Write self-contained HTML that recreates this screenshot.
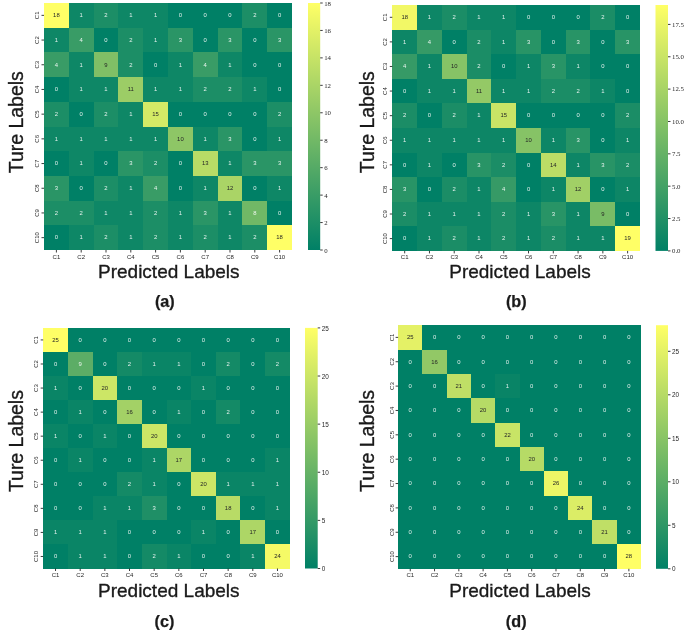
<!DOCTYPE html>
<html><head><meta charset="utf-8"><style>
html,body{margin:0;padding:0;background:#fff;}
body{width:685px;height:630px;position:relative;overflow:hidden;font-family:"Liberation Sans",sans-serif;}
</style></head><body>
<svg width="685" height="630" viewBox="0 0 685 630" style="position:absolute;left:0;top:0;will-change:transform">
<defs>
<linearGradient id="g0" x1="0" y1="1" x2="0" y2="0"><stop offset="0" stop-color="#008066"/><stop offset="1" stop-color="#ffff66"/></linearGradient>
<linearGradient id="g1" x1="0" y1="1" x2="0" y2="0"><stop offset="0" stop-color="#008066"/><stop offset="1" stop-color="#ffff66"/></linearGradient>
<linearGradient id="g2" x1="0" y1="1" x2="0" y2="0"><stop offset="0" stop-color="#008066"/><stop offset="1" stop-color="#ffff66"/></linearGradient>
<linearGradient id="g3" x1="0" y1="1" x2="0" y2="0"><stop offset="0" stop-color="#008066"/><stop offset="1" stop-color="#ffff66"/></linearGradient>
</defs>
<g shape-rendering="crispEdges"><rect x="44.00" y="3.00" width="24.82" height="24.72" fill="#ffff66"/><rect x="68.80" y="3.00" width="24.82" height="24.72" fill="#0e8766"/><rect x="93.60" y="3.00" width="24.82" height="24.72" fill="#1c8e66"/><rect x="118.40" y="3.00" width="24.82" height="24.72" fill="#0e8766"/><rect x="143.20" y="3.00" width="24.82" height="24.72" fill="#0e8766"/><rect x="168.00" y="3.00" width="24.82" height="24.72" fill="#008066"/><rect x="192.80" y="3.00" width="24.82" height="24.72" fill="#008066"/><rect x="217.60" y="3.00" width="24.82" height="24.72" fill="#008066"/><rect x="242.40" y="3.00" width="24.82" height="24.72" fill="#1c8e66"/><rect x="267.20" y="3.00" width="24.82" height="24.72" fill="#008066"/><rect x="44.00" y="27.70" width="24.82" height="24.72" fill="#0e8766"/><rect x="68.80" y="27.70" width="24.82" height="24.72" fill="#399c66"/><rect x="93.60" y="27.70" width="24.82" height="24.72" fill="#008066"/><rect x="118.40" y="27.70" width="24.82" height="24.72" fill="#1c8e66"/><rect x="143.20" y="27.70" width="24.82" height="24.72" fill="#0e8766"/><rect x="168.00" y="27.70" width="24.82" height="24.72" fill="#2a9566"/><rect x="192.80" y="27.70" width="24.82" height="24.72" fill="#008066"/><rect x="217.60" y="27.70" width="24.82" height="24.72" fill="#2a9566"/><rect x="242.40" y="27.70" width="24.82" height="24.72" fill="#008066"/><rect x="267.20" y="27.70" width="24.82" height="24.72" fill="#2a9566"/><rect x="44.00" y="52.40" width="24.82" height="24.72" fill="#399c66"/><rect x="68.80" y="52.40" width="24.82" height="24.72" fill="#0e8766"/><rect x="93.60" y="52.40" width="24.82" height="24.72" fill="#80bf66"/><rect x="118.40" y="52.40" width="24.82" height="24.72" fill="#1c8e66"/><rect x="143.20" y="52.40" width="24.82" height="24.72" fill="#008066"/><rect x="168.00" y="52.40" width="24.82" height="24.72" fill="#0e8766"/><rect x="192.80" y="52.40" width="24.82" height="24.72" fill="#399c66"/><rect x="217.60" y="52.40" width="24.82" height="24.72" fill="#0e8766"/><rect x="242.40" y="52.40" width="24.82" height="24.72" fill="#008066"/><rect x="267.20" y="52.40" width="24.82" height="24.72" fill="#008066"/><rect x="44.00" y="77.10" width="24.82" height="24.72" fill="#008066"/><rect x="68.80" y="77.10" width="24.82" height="24.72" fill="#0e8766"/><rect x="93.60" y="77.10" width="24.82" height="24.72" fill="#0e8766"/><rect x="118.40" y="77.10" width="24.82" height="24.72" fill="#9ccd66"/><rect x="143.20" y="77.10" width="24.82" height="24.72" fill="#0e8766"/><rect x="168.00" y="77.10" width="24.82" height="24.72" fill="#0e8766"/><rect x="192.80" y="77.10" width="24.82" height="24.72" fill="#1c8e66"/><rect x="217.60" y="77.10" width="24.82" height="24.72" fill="#1c8e66"/><rect x="242.40" y="77.10" width="24.82" height="24.72" fill="#0e8766"/><rect x="267.20" y="77.10" width="24.82" height="24.72" fill="#008066"/><rect x="44.00" y="101.80" width="24.82" height="24.72" fill="#1c8e66"/><rect x="68.80" y="101.80" width="24.82" height="24.72" fill="#008066"/><rect x="93.60" y="101.80" width="24.82" height="24.72" fill="#1c8e66"/><rect x="118.40" y="101.80" width="24.82" height="24.72" fill="#0e8766"/><rect x="143.20" y="101.80" width="24.82" height="24.72" fill="#d4ea66"/><rect x="168.00" y="101.80" width="24.82" height="24.72" fill="#008066"/><rect x="192.80" y="101.80" width="24.82" height="24.72" fill="#008066"/><rect x="217.60" y="101.80" width="24.82" height="24.72" fill="#008066"/><rect x="242.40" y="101.80" width="24.82" height="24.72" fill="#008066"/><rect x="267.20" y="101.80" width="24.82" height="24.72" fill="#1c8e66"/><rect x="44.00" y="126.50" width="24.82" height="24.72" fill="#0e8766"/><rect x="68.80" y="126.50" width="24.82" height="24.72" fill="#0e8766"/><rect x="93.60" y="126.50" width="24.82" height="24.72" fill="#0e8766"/><rect x="118.40" y="126.50" width="24.82" height="24.72" fill="#0e8766"/><rect x="143.20" y="126.50" width="24.82" height="24.72" fill="#0e8766"/><rect x="168.00" y="126.50" width="24.82" height="24.72" fill="#8ec666"/><rect x="192.80" y="126.50" width="24.82" height="24.72" fill="#0e8766"/><rect x="217.60" y="126.50" width="24.82" height="24.72" fill="#2a9566"/><rect x="242.40" y="126.50" width="24.82" height="24.72" fill="#008066"/><rect x="267.20" y="126.50" width="24.82" height="24.72" fill="#0e8766"/><rect x="44.00" y="151.20" width="24.82" height="24.72" fill="#008066"/><rect x="68.80" y="151.20" width="24.82" height="24.72" fill="#0e8766"/><rect x="93.60" y="151.20" width="24.82" height="24.72" fill="#008066"/><rect x="118.40" y="151.20" width="24.82" height="24.72" fill="#2a9566"/><rect x="143.20" y="151.20" width="24.82" height="24.72" fill="#1c8e66"/><rect x="168.00" y="151.20" width="24.82" height="24.72" fill="#008066"/><rect x="192.80" y="151.20" width="24.82" height="24.72" fill="#b8dc66"/><rect x="217.60" y="151.20" width="24.82" height="24.72" fill="#0e8766"/><rect x="242.40" y="151.20" width="24.82" height="24.72" fill="#2a9566"/><rect x="267.20" y="151.20" width="24.82" height="24.72" fill="#2a9566"/><rect x="44.00" y="175.90" width="24.82" height="24.72" fill="#2a9566"/><rect x="68.80" y="175.90" width="24.82" height="24.72" fill="#008066"/><rect x="93.60" y="175.90" width="24.82" height="24.72" fill="#1c8e66"/><rect x="118.40" y="175.90" width="24.82" height="24.72" fill="#0e8766"/><rect x="143.20" y="175.90" width="24.82" height="24.72" fill="#399c66"/><rect x="168.00" y="175.90" width="24.82" height="24.72" fill="#008066"/><rect x="192.80" y="175.90" width="24.82" height="24.72" fill="#0e8766"/><rect x="217.60" y="175.90" width="24.82" height="24.72" fill="#aad466"/><rect x="242.40" y="175.90" width="24.82" height="24.72" fill="#008066"/><rect x="267.20" y="175.90" width="24.82" height="24.72" fill="#0e8766"/><rect x="44.00" y="200.60" width="24.82" height="24.72" fill="#1c8e66"/><rect x="68.80" y="200.60" width="24.82" height="24.72" fill="#1c8e66"/><rect x="93.60" y="200.60" width="24.82" height="24.72" fill="#0e8766"/><rect x="118.40" y="200.60" width="24.82" height="24.72" fill="#0e8766"/><rect x="143.20" y="200.60" width="24.82" height="24.72" fill="#1c8e66"/><rect x="168.00" y="200.60" width="24.82" height="24.72" fill="#0e8766"/><rect x="192.80" y="200.60" width="24.82" height="24.72" fill="#2a9566"/><rect x="217.60" y="200.60" width="24.82" height="24.72" fill="#0e8766"/><rect x="242.40" y="200.60" width="24.82" height="24.72" fill="#71b866"/><rect x="267.20" y="200.60" width="24.82" height="24.72" fill="#008066"/><rect x="44.00" y="225.30" width="24.82" height="24.72" fill="#008066"/><rect x="68.80" y="225.30" width="24.82" height="24.72" fill="#0e8766"/><rect x="93.60" y="225.30" width="24.82" height="24.72" fill="#1c8e66"/><rect x="118.40" y="225.30" width="24.82" height="24.72" fill="#0e8766"/><rect x="143.20" y="225.30" width="24.82" height="24.72" fill="#1c8e66"/><rect x="168.00" y="225.30" width="24.82" height="24.72" fill="#0e8766"/><rect x="192.80" y="225.30" width="24.82" height="24.72" fill="#1c8e66"/><rect x="217.60" y="225.30" width="24.82" height="24.72" fill="#0e8766"/><rect x="242.40" y="225.30" width="24.82" height="24.72" fill="#1c8e66"/><rect x="267.20" y="225.30" width="24.82" height="24.72" fill="#ffff66"/></g>
<g font-family="Liberation Sans" font-size="5.9" text-anchor="middle"><text x="56.40" y="17.15" fill="#262626">18</text><text x="81.20" y="17.15" fill="#ffffff" fill-opacity="0.88">1</text><text x="106.00" y="17.15" fill="#ffffff" fill-opacity="0.88">2</text><text x="130.80" y="17.15" fill="#ffffff" fill-opacity="0.88">1</text><text x="155.60" y="17.15" fill="#ffffff" fill-opacity="0.88">1</text><text x="180.40" y="17.15" fill="#ffffff" fill-opacity="0.88">0</text><text x="205.20" y="17.15" fill="#ffffff" fill-opacity="0.88">0</text><text x="230.00" y="17.15" fill="#ffffff" fill-opacity="0.88">0</text><text x="254.80" y="17.15" fill="#ffffff" fill-opacity="0.88">2</text><text x="279.60" y="17.15" fill="#ffffff" fill-opacity="0.88">0</text><text x="56.40" y="41.85" fill="#ffffff" fill-opacity="0.88">1</text><text x="81.20" y="41.85" fill="#ffffff" fill-opacity="0.88">4</text><text x="106.00" y="41.85" fill="#ffffff" fill-opacity="0.88">0</text><text x="130.80" y="41.85" fill="#ffffff" fill-opacity="0.88">2</text><text x="155.60" y="41.85" fill="#ffffff" fill-opacity="0.88">1</text><text x="180.40" y="41.85" fill="#ffffff" fill-opacity="0.88">3</text><text x="205.20" y="41.85" fill="#ffffff" fill-opacity="0.88">0</text><text x="230.00" y="41.85" fill="#ffffff" fill-opacity="0.88">3</text><text x="254.80" y="41.85" fill="#ffffff" fill-opacity="0.88">0</text><text x="279.60" y="41.85" fill="#ffffff" fill-opacity="0.88">3</text><text x="56.40" y="66.55" fill="#ffffff" fill-opacity="0.88">4</text><text x="81.20" y="66.55" fill="#ffffff" fill-opacity="0.88">1</text><text x="106.00" y="66.55" fill="#262626">9</text><text x="130.80" y="66.55" fill="#ffffff" fill-opacity="0.88">2</text><text x="155.60" y="66.55" fill="#ffffff" fill-opacity="0.88">0</text><text x="180.40" y="66.55" fill="#ffffff" fill-opacity="0.88">1</text><text x="205.20" y="66.55" fill="#ffffff" fill-opacity="0.88">4</text><text x="230.00" y="66.55" fill="#ffffff" fill-opacity="0.88">1</text><text x="254.80" y="66.55" fill="#ffffff" fill-opacity="0.88">0</text><text x="279.60" y="66.55" fill="#ffffff" fill-opacity="0.88">0</text><text x="56.40" y="91.25" fill="#ffffff" fill-opacity="0.88">0</text><text x="81.20" y="91.25" fill="#ffffff" fill-opacity="0.88">1</text><text x="106.00" y="91.25" fill="#ffffff" fill-opacity="0.88">1</text><text x="130.80" y="91.25" fill="#262626">11</text><text x="155.60" y="91.25" fill="#ffffff" fill-opacity="0.88">1</text><text x="180.40" y="91.25" fill="#ffffff" fill-opacity="0.88">1</text><text x="205.20" y="91.25" fill="#ffffff" fill-opacity="0.88">2</text><text x="230.00" y="91.25" fill="#ffffff" fill-opacity="0.88">2</text><text x="254.80" y="91.25" fill="#ffffff" fill-opacity="0.88">1</text><text x="279.60" y="91.25" fill="#ffffff" fill-opacity="0.88">0</text><text x="56.40" y="115.95" fill="#ffffff" fill-opacity="0.88">2</text><text x="81.20" y="115.95" fill="#ffffff" fill-opacity="0.88">0</text><text x="106.00" y="115.95" fill="#ffffff" fill-opacity="0.88">2</text><text x="130.80" y="115.95" fill="#ffffff" fill-opacity="0.88">1</text><text x="155.60" y="115.95" fill="#262626">15</text><text x="180.40" y="115.95" fill="#ffffff" fill-opacity="0.88">0</text><text x="205.20" y="115.95" fill="#ffffff" fill-opacity="0.88">0</text><text x="230.00" y="115.95" fill="#ffffff" fill-opacity="0.88">0</text><text x="254.80" y="115.95" fill="#ffffff" fill-opacity="0.88">0</text><text x="279.60" y="115.95" fill="#ffffff" fill-opacity="0.88">2</text><text x="56.40" y="140.65" fill="#ffffff" fill-opacity="0.88">1</text><text x="81.20" y="140.65" fill="#ffffff" fill-opacity="0.88">1</text><text x="106.00" y="140.65" fill="#ffffff" fill-opacity="0.88">1</text><text x="130.80" y="140.65" fill="#ffffff" fill-opacity="0.88">1</text><text x="155.60" y="140.65" fill="#ffffff" fill-opacity="0.88">1</text><text x="180.40" y="140.65" fill="#262626">10</text><text x="205.20" y="140.65" fill="#ffffff" fill-opacity="0.88">1</text><text x="230.00" y="140.65" fill="#ffffff" fill-opacity="0.88">3</text><text x="254.80" y="140.65" fill="#ffffff" fill-opacity="0.88">0</text><text x="279.60" y="140.65" fill="#ffffff" fill-opacity="0.88">1</text><text x="56.40" y="165.35" fill="#ffffff" fill-opacity="0.88">0</text><text x="81.20" y="165.35" fill="#ffffff" fill-opacity="0.88">1</text><text x="106.00" y="165.35" fill="#ffffff" fill-opacity="0.88">0</text><text x="130.80" y="165.35" fill="#ffffff" fill-opacity="0.88">3</text><text x="155.60" y="165.35" fill="#ffffff" fill-opacity="0.88">2</text><text x="180.40" y="165.35" fill="#ffffff" fill-opacity="0.88">0</text><text x="205.20" y="165.35" fill="#262626">13</text><text x="230.00" y="165.35" fill="#ffffff" fill-opacity="0.88">1</text><text x="254.80" y="165.35" fill="#ffffff" fill-opacity="0.88">3</text><text x="279.60" y="165.35" fill="#ffffff" fill-opacity="0.88">3</text><text x="56.40" y="190.05" fill="#ffffff" fill-opacity="0.88">3</text><text x="81.20" y="190.05" fill="#ffffff" fill-opacity="0.88">0</text><text x="106.00" y="190.05" fill="#ffffff" fill-opacity="0.88">2</text><text x="130.80" y="190.05" fill="#ffffff" fill-opacity="0.88">1</text><text x="155.60" y="190.05" fill="#ffffff" fill-opacity="0.88">4</text><text x="180.40" y="190.05" fill="#ffffff" fill-opacity="0.88">0</text><text x="205.20" y="190.05" fill="#ffffff" fill-opacity="0.88">1</text><text x="230.00" y="190.05" fill="#262626">12</text><text x="254.80" y="190.05" fill="#ffffff" fill-opacity="0.88">0</text><text x="279.60" y="190.05" fill="#ffffff" fill-opacity="0.88">1</text><text x="56.40" y="214.75" fill="#ffffff" fill-opacity="0.88">2</text><text x="81.20" y="214.75" fill="#ffffff" fill-opacity="0.88">2</text><text x="106.00" y="214.75" fill="#ffffff" fill-opacity="0.88">1</text><text x="130.80" y="214.75" fill="#ffffff" fill-opacity="0.88">1</text><text x="155.60" y="214.75" fill="#ffffff" fill-opacity="0.88">2</text><text x="180.40" y="214.75" fill="#ffffff" fill-opacity="0.88">1</text><text x="205.20" y="214.75" fill="#ffffff" fill-opacity="0.88">3</text><text x="230.00" y="214.75" fill="#ffffff" fill-opacity="0.88">1</text><text x="254.80" y="214.75" fill="#ffffff" fill-opacity="0.88">8</text><text x="279.60" y="214.75" fill="#ffffff" fill-opacity="0.88">0</text><text x="56.40" y="239.45" fill="#ffffff" fill-opacity="0.88">0</text><text x="81.20" y="239.45" fill="#ffffff" fill-opacity="0.88">1</text><text x="106.00" y="239.45" fill="#ffffff" fill-opacity="0.88">2</text><text x="130.80" y="239.45" fill="#ffffff" fill-opacity="0.88">1</text><text x="155.60" y="239.45" fill="#ffffff" fill-opacity="0.88">2</text><text x="180.40" y="239.45" fill="#ffffff" fill-opacity="0.88">1</text><text x="205.20" y="239.45" fill="#ffffff" fill-opacity="0.88">2</text><text x="230.00" y="239.45" fill="#ffffff" fill-opacity="0.88">1</text><text x="254.80" y="239.45" fill="#ffffff" fill-opacity="0.88">2</text><text x="279.60" y="239.45" fill="#262626">18</text></g>
<rect x="308.00" y="3.00" width="12.20" height="247.00" fill="url(#g0)"/>
<g font-family="Liberation Serif" font-size="6.8" fill="#262626"><line x1="320.20" x2="322.70" y1="250.00" y2="250.00" stroke="#262626" stroke-width="0.9"/><text x="324.20" y="252.55">0</text><line x1="320.20" x2="322.70" y1="222.56" y2="222.56" stroke="#262626" stroke-width="0.9"/><text x="324.20" y="225.10">2</text><line x1="320.20" x2="322.70" y1="195.11" y2="195.11" stroke="#262626" stroke-width="0.9"/><text x="324.20" y="197.66">4</text><line x1="320.20" x2="322.70" y1="167.67" y2="167.67" stroke="#262626" stroke-width="0.9"/><text x="324.20" y="170.21">6</text><line x1="320.20" x2="322.70" y1="140.22" y2="140.22" stroke="#262626" stroke-width="0.9"/><text x="324.20" y="142.77">8</text><line x1="320.20" x2="322.70" y1="112.78" y2="112.78" stroke="#262626" stroke-width="0.9"/><text x="324.20" y="115.33">10</text><line x1="320.20" x2="322.70" y1="85.33" y2="85.33" stroke="#262626" stroke-width="0.9"/><text x="324.20" y="87.88">12</text><line x1="320.20" x2="322.70" y1="57.89" y2="57.89" stroke="#262626" stroke-width="0.9"/><text x="324.20" y="60.44">14</text><line x1="320.20" x2="322.70" y1="30.44" y2="30.44" stroke="#262626" stroke-width="0.9"/><text x="324.20" y="32.99">16</text><line x1="320.20" x2="322.70" y1="3.00" y2="3.00" stroke="#262626" stroke-width="0.9"/><text x="324.20" y="5.55">18</text></g>
<g font-family="Liberation Sans" font-size="6.0" fill="#262626" text-anchor="middle"><line x1="56.40" x2="56.40" y1="250.00" y2="252.50" stroke="#262626" stroke-width="0.9"/><text x="56.40" y="258.86">C1</text><line x1="81.20" x2="81.20" y1="250.00" y2="252.50" stroke="#262626" stroke-width="0.9"/><text x="81.20" y="258.86">C2</text><line x1="106.00" x2="106.00" y1="250.00" y2="252.50" stroke="#262626" stroke-width="0.9"/><text x="106.00" y="258.86">C3</text><line x1="130.80" x2="130.80" y1="250.00" y2="252.50" stroke="#262626" stroke-width="0.9"/><text x="130.80" y="258.86">C4</text><line x1="155.60" x2="155.60" y1="250.00" y2="252.50" stroke="#262626" stroke-width="0.9"/><text x="155.60" y="258.86">C5</text><line x1="180.40" x2="180.40" y1="250.00" y2="252.50" stroke="#262626" stroke-width="0.9"/><text x="180.40" y="258.86">C6</text><line x1="205.20" x2="205.20" y1="250.00" y2="252.50" stroke="#262626" stroke-width="0.9"/><text x="205.20" y="258.86">C7</text><line x1="230.00" x2="230.00" y1="250.00" y2="252.50" stroke="#262626" stroke-width="0.9"/><text x="230.00" y="258.86">C8</text><line x1="254.80" x2="254.80" y1="250.00" y2="252.50" stroke="#262626" stroke-width="0.9"/><text x="254.80" y="258.86">C9</text><line x1="279.60" x2="279.60" y1="250.00" y2="252.50" stroke="#262626" stroke-width="0.9"/><text x="279.60" y="258.86">C10</text><line x1="41.50" x2="44.00" y1="15.35" y2="15.35" stroke="#262626" stroke-width="0.9"/><text transform="translate(37.00 15.35) rotate(-90)" x="0" y="2.16">C1</text><line x1="41.50" x2="44.00" y1="40.05" y2="40.05" stroke="#262626" stroke-width="0.9"/><text transform="translate(37.00 40.05) rotate(-90)" x="0" y="2.16">C2</text><line x1="41.50" x2="44.00" y1="64.75" y2="64.75" stroke="#262626" stroke-width="0.9"/><text transform="translate(37.00 64.75) rotate(-90)" x="0" y="2.16">C3</text><line x1="41.50" x2="44.00" y1="89.45" y2="89.45" stroke="#262626" stroke-width="0.9"/><text transform="translate(37.00 89.45) rotate(-90)" x="0" y="2.16">C4</text><line x1="41.50" x2="44.00" y1="114.15" y2="114.15" stroke="#262626" stroke-width="0.9"/><text transform="translate(37.00 114.15) rotate(-90)" x="0" y="2.16">C5</text><line x1="41.50" x2="44.00" y1="138.85" y2="138.85" stroke="#262626" stroke-width="0.9"/><text transform="translate(37.00 138.85) rotate(-90)" x="0" y="2.16">C6</text><line x1="41.50" x2="44.00" y1="163.55" y2="163.55" stroke="#262626" stroke-width="0.9"/><text transform="translate(37.00 163.55) rotate(-90)" x="0" y="2.16">C7</text><line x1="41.50" x2="44.00" y1="188.25" y2="188.25" stroke="#262626" stroke-width="0.9"/><text transform="translate(37.00 188.25) rotate(-90)" x="0" y="2.16">C8</text><line x1="41.50" x2="44.00" y1="212.95" y2="212.95" stroke="#262626" stroke-width="0.9"/><text transform="translate(37.00 212.95) rotate(-90)" x="0" y="2.16">C9</text><line x1="41.50" x2="44.00" y1="237.65" y2="237.65" stroke="#262626" stroke-width="0.9"/><text transform="translate(37.00 237.65) rotate(-90)" x="0" y="2.16">C10</text></g>
<text font-family="Liberation Sans" font-size="19" fill="#1a1a1a" stroke="#1a1a1a" stroke-width="0.35" text-anchor="middle" x="168.80" y="278.40">Predicted Labels</text>
<text font-family="Liberation Sans" font-size="19.6" textLength="102" lengthAdjust="spacingAndGlyphs" fill="#1a1a1a" stroke="#1a1a1a" stroke-width="0.35" text-anchor="middle" transform="translate(15.70 122.20) rotate(-90)" x="0" y="6.80">Ture Labels</text>
<text font-family="Liberation Sans" font-weight="bold" font-size="16.2" fill="#1a1a1a" stroke="#1a1a1a" stroke-width="0.25" text-anchor="middle" x="164.80" y="307.20">(a)</text>
<g shape-rendering="crispEdges"><rect x="392.30" y="5.00" width="24.79" height="24.61" fill="#f2f866"/><rect x="417.07" y="5.00" width="24.79" height="24.61" fill="#0d8666"/><rect x="441.84" y="5.00" width="24.79" height="24.61" fill="#1b8d66"/><rect x="466.61" y="5.00" width="24.79" height="24.61" fill="#0d8666"/><rect x="491.38" y="5.00" width="24.79" height="24.61" fill="#0d8666"/><rect x="516.15" y="5.00" width="24.79" height="24.61" fill="#008066"/><rect x="540.92" y="5.00" width="24.79" height="24.61" fill="#008066"/><rect x="565.69" y="5.00" width="24.79" height="24.61" fill="#008066"/><rect x="590.46" y="5.00" width="24.79" height="24.61" fill="#1b8d66"/><rect x="615.23" y="5.00" width="24.79" height="24.61" fill="#008066"/><rect x="392.30" y="29.59" width="24.79" height="24.61" fill="#0d8666"/><rect x="417.07" y="29.59" width="24.79" height="24.61" fill="#369a66"/><rect x="441.84" y="29.59" width="24.79" height="24.61" fill="#008066"/><rect x="466.61" y="29.59" width="24.79" height="24.61" fill="#1b8d66"/><rect x="491.38" y="29.59" width="24.79" height="24.61" fill="#0d8666"/><rect x="516.15" y="29.59" width="24.79" height="24.61" fill="#289466"/><rect x="540.92" y="29.59" width="24.79" height="24.61" fill="#008066"/><rect x="565.69" y="29.59" width="24.79" height="24.61" fill="#289466"/><rect x="590.46" y="29.59" width="24.79" height="24.61" fill="#008066"/><rect x="615.23" y="29.59" width="24.79" height="24.61" fill="#289466"/><rect x="392.30" y="54.18" width="24.79" height="24.61" fill="#369a66"/><rect x="417.07" y="54.18" width="24.79" height="24.61" fill="#0d8666"/><rect x="441.84" y="54.18" width="24.79" height="24.61" fill="#86c366"/><rect x="466.61" y="54.18" width="24.79" height="24.61" fill="#1b8d66"/><rect x="491.38" y="54.18" width="24.79" height="24.61" fill="#008066"/><rect x="516.15" y="54.18" width="24.79" height="24.61" fill="#0d8666"/><rect x="540.92" y="54.18" width="24.79" height="24.61" fill="#289466"/><rect x="565.69" y="54.18" width="24.79" height="24.61" fill="#0d8666"/><rect x="590.46" y="54.18" width="24.79" height="24.61" fill="#008066"/><rect x="615.23" y="54.18" width="24.79" height="24.61" fill="#008066"/><rect x="392.30" y="78.77" width="24.79" height="24.61" fill="#008066"/><rect x="417.07" y="78.77" width="24.79" height="24.61" fill="#0d8666"/><rect x="441.84" y="78.77" width="24.79" height="24.61" fill="#0d8666"/><rect x="466.61" y="78.77" width="24.79" height="24.61" fill="#94c966"/><rect x="491.38" y="78.77" width="24.79" height="24.61" fill="#0d8666"/><rect x="516.15" y="78.77" width="24.79" height="24.61" fill="#0d8666"/><rect x="540.92" y="78.77" width="24.79" height="24.61" fill="#1b8d66"/><rect x="565.69" y="78.77" width="24.79" height="24.61" fill="#1b8d66"/><rect x="590.46" y="78.77" width="24.79" height="24.61" fill="#0d8666"/><rect x="615.23" y="78.77" width="24.79" height="24.61" fill="#008066"/><rect x="392.30" y="103.36" width="24.79" height="24.61" fill="#1b8d66"/><rect x="417.07" y="103.36" width="24.79" height="24.61" fill="#008066"/><rect x="441.84" y="103.36" width="24.79" height="24.61" fill="#1b8d66"/><rect x="466.61" y="103.36" width="24.79" height="24.61" fill="#0d8666"/><rect x="491.38" y="103.36" width="24.79" height="24.61" fill="#c9e466"/><rect x="516.15" y="103.36" width="24.79" height="24.61" fill="#008066"/><rect x="540.92" y="103.36" width="24.79" height="24.61" fill="#008066"/><rect x="565.69" y="103.36" width="24.79" height="24.61" fill="#008066"/><rect x="590.46" y="103.36" width="24.79" height="24.61" fill="#008066"/><rect x="615.23" y="103.36" width="24.79" height="24.61" fill="#1b8d66"/><rect x="392.30" y="127.95" width="24.79" height="24.61" fill="#0d8666"/><rect x="417.07" y="127.95" width="24.79" height="24.61" fill="#0d8666"/><rect x="441.84" y="127.95" width="24.79" height="24.61" fill="#0d8666"/><rect x="466.61" y="127.95" width="24.79" height="24.61" fill="#0d8666"/><rect x="491.38" y="127.95" width="24.79" height="24.61" fill="#0d8666"/><rect x="516.15" y="127.95" width="24.79" height="24.61" fill="#86c366"/><rect x="540.92" y="127.95" width="24.79" height="24.61" fill="#0d8666"/><rect x="565.69" y="127.95" width="24.79" height="24.61" fill="#289466"/><rect x="590.46" y="127.95" width="24.79" height="24.61" fill="#008066"/><rect x="615.23" y="127.95" width="24.79" height="24.61" fill="#0d8666"/><rect x="392.30" y="152.54" width="24.79" height="24.61" fill="#008066"/><rect x="417.07" y="152.54" width="24.79" height="24.61" fill="#0d8666"/><rect x="441.84" y="152.54" width="24.79" height="24.61" fill="#008066"/><rect x="466.61" y="152.54" width="24.79" height="24.61" fill="#289466"/><rect x="491.38" y="152.54" width="24.79" height="24.61" fill="#1b8d66"/><rect x="516.15" y="152.54" width="24.79" height="24.61" fill="#008066"/><rect x="540.92" y="152.54" width="24.79" height="24.61" fill="#bcdd66"/><rect x="565.69" y="152.54" width="24.79" height="24.61" fill="#0d8666"/><rect x="590.46" y="152.54" width="24.79" height="24.61" fill="#289466"/><rect x="615.23" y="152.54" width="24.79" height="24.61" fill="#1b8d66"/><rect x="392.30" y="177.13" width="24.79" height="24.61" fill="#289466"/><rect x="417.07" y="177.13" width="24.79" height="24.61" fill="#008066"/><rect x="441.84" y="177.13" width="24.79" height="24.61" fill="#1b8d66"/><rect x="466.61" y="177.13" width="24.79" height="24.61" fill="#0d8666"/><rect x="491.38" y="177.13" width="24.79" height="24.61" fill="#369a66"/><rect x="516.15" y="177.13" width="24.79" height="24.61" fill="#008066"/><rect x="540.92" y="177.13" width="24.79" height="24.61" fill="#0d8666"/><rect x="565.69" y="177.13" width="24.79" height="24.61" fill="#a1d066"/><rect x="590.46" y="177.13" width="24.79" height="24.61" fill="#008066"/><rect x="615.23" y="177.13" width="24.79" height="24.61" fill="#0d8666"/><rect x="392.30" y="201.72" width="24.79" height="24.61" fill="#1b8d66"/><rect x="417.07" y="201.72" width="24.79" height="24.61" fill="#0d8666"/><rect x="441.84" y="201.72" width="24.79" height="24.61" fill="#0d8666"/><rect x="466.61" y="201.72" width="24.79" height="24.61" fill="#0d8666"/><rect x="491.38" y="201.72" width="24.79" height="24.61" fill="#1b8d66"/><rect x="516.15" y="201.72" width="24.79" height="24.61" fill="#0d8666"/><rect x="540.92" y="201.72" width="24.79" height="24.61" fill="#289466"/><rect x="565.69" y="201.72" width="24.79" height="24.61" fill="#0d8666"/><rect x="590.46" y="201.72" width="24.79" height="24.61" fill="#79bc66"/><rect x="615.23" y="201.72" width="24.79" height="24.61" fill="#008066"/><rect x="392.30" y="226.31" width="24.79" height="24.61" fill="#008066"/><rect x="417.07" y="226.31" width="24.79" height="24.61" fill="#0d8666"/><rect x="441.84" y="226.31" width="24.79" height="24.61" fill="#1b8d66"/><rect x="466.61" y="226.31" width="24.79" height="24.61" fill="#0d8666"/><rect x="491.38" y="226.31" width="24.79" height="24.61" fill="#1b8d66"/><rect x="516.15" y="226.31" width="24.79" height="24.61" fill="#0d8666"/><rect x="540.92" y="226.31" width="24.79" height="24.61" fill="#1b8d66"/><rect x="565.69" y="226.31" width="24.79" height="24.61" fill="#0d8666"/><rect x="590.46" y="226.31" width="24.79" height="24.61" fill="#0d8666"/><rect x="615.23" y="226.31" width="24.79" height="24.61" fill="#ffff66"/></g>
<g font-family="Liberation Sans" font-size="5.9" text-anchor="middle"><text x="404.69" y="19.10" fill="#262626">18</text><text x="429.46" y="19.10" fill="#ffffff" fill-opacity="0.88">1</text><text x="454.23" y="19.10" fill="#ffffff" fill-opacity="0.88">2</text><text x="479.00" y="19.10" fill="#ffffff" fill-opacity="0.88">1</text><text x="503.76" y="19.10" fill="#ffffff" fill-opacity="0.88">1</text><text x="528.53" y="19.10" fill="#ffffff" fill-opacity="0.88">0</text><text x="553.31" y="19.10" fill="#ffffff" fill-opacity="0.88">0</text><text x="578.08" y="19.10" fill="#ffffff" fill-opacity="0.88">0</text><text x="602.85" y="19.10" fill="#ffffff" fill-opacity="0.88">2</text><text x="627.62" y="19.10" fill="#ffffff" fill-opacity="0.88">0</text><text x="404.69" y="43.68" fill="#ffffff" fill-opacity="0.88">1</text><text x="429.46" y="43.68" fill="#ffffff" fill-opacity="0.88">4</text><text x="454.23" y="43.68" fill="#ffffff" fill-opacity="0.88">0</text><text x="479.00" y="43.68" fill="#ffffff" fill-opacity="0.88">2</text><text x="503.76" y="43.68" fill="#ffffff" fill-opacity="0.88">1</text><text x="528.53" y="43.68" fill="#ffffff" fill-opacity="0.88">3</text><text x="553.31" y="43.68" fill="#ffffff" fill-opacity="0.88">0</text><text x="578.08" y="43.68" fill="#ffffff" fill-opacity="0.88">3</text><text x="602.85" y="43.68" fill="#ffffff" fill-opacity="0.88">0</text><text x="627.62" y="43.68" fill="#ffffff" fill-opacity="0.88">3</text><text x="404.69" y="68.27" fill="#ffffff" fill-opacity="0.88">4</text><text x="429.46" y="68.27" fill="#ffffff" fill-opacity="0.88">1</text><text x="454.23" y="68.27" fill="#262626">10</text><text x="479.00" y="68.27" fill="#ffffff" fill-opacity="0.88">2</text><text x="503.76" y="68.27" fill="#ffffff" fill-opacity="0.88">0</text><text x="528.53" y="68.27" fill="#ffffff" fill-opacity="0.88">1</text><text x="553.31" y="68.27" fill="#ffffff" fill-opacity="0.88">3</text><text x="578.08" y="68.27" fill="#ffffff" fill-opacity="0.88">1</text><text x="602.85" y="68.27" fill="#ffffff" fill-opacity="0.88">0</text><text x="627.62" y="68.27" fill="#ffffff" fill-opacity="0.88">0</text><text x="404.69" y="92.86" fill="#ffffff" fill-opacity="0.88">0</text><text x="429.46" y="92.86" fill="#ffffff" fill-opacity="0.88">1</text><text x="454.23" y="92.86" fill="#ffffff" fill-opacity="0.88">1</text><text x="479.00" y="92.86" fill="#262626">11</text><text x="503.76" y="92.86" fill="#ffffff" fill-opacity="0.88">1</text><text x="528.53" y="92.86" fill="#ffffff" fill-opacity="0.88">1</text><text x="553.31" y="92.86" fill="#ffffff" fill-opacity="0.88">2</text><text x="578.08" y="92.86" fill="#ffffff" fill-opacity="0.88">2</text><text x="602.85" y="92.86" fill="#ffffff" fill-opacity="0.88">1</text><text x="627.62" y="92.86" fill="#ffffff" fill-opacity="0.88">0</text><text x="404.69" y="117.45" fill="#ffffff" fill-opacity="0.88">2</text><text x="429.46" y="117.45" fill="#ffffff" fill-opacity="0.88">0</text><text x="454.23" y="117.45" fill="#ffffff" fill-opacity="0.88">2</text><text x="479.00" y="117.45" fill="#ffffff" fill-opacity="0.88">1</text><text x="503.76" y="117.45" fill="#262626">15</text><text x="528.53" y="117.45" fill="#ffffff" fill-opacity="0.88">0</text><text x="553.31" y="117.45" fill="#ffffff" fill-opacity="0.88">0</text><text x="578.08" y="117.45" fill="#ffffff" fill-opacity="0.88">0</text><text x="602.85" y="117.45" fill="#ffffff" fill-opacity="0.88">0</text><text x="627.62" y="117.45" fill="#ffffff" fill-opacity="0.88">2</text><text x="404.69" y="142.05" fill="#ffffff" fill-opacity="0.88">1</text><text x="429.46" y="142.05" fill="#ffffff" fill-opacity="0.88">1</text><text x="454.23" y="142.05" fill="#ffffff" fill-opacity="0.88">1</text><text x="479.00" y="142.05" fill="#ffffff" fill-opacity="0.88">1</text><text x="503.76" y="142.05" fill="#ffffff" fill-opacity="0.88">1</text><text x="528.53" y="142.05" fill="#262626">10</text><text x="553.31" y="142.05" fill="#ffffff" fill-opacity="0.88">1</text><text x="578.08" y="142.05" fill="#ffffff" fill-opacity="0.88">3</text><text x="602.85" y="142.05" fill="#ffffff" fill-opacity="0.88">0</text><text x="627.62" y="142.05" fill="#ffffff" fill-opacity="0.88">1</text><text x="404.69" y="166.64" fill="#ffffff" fill-opacity="0.88">0</text><text x="429.46" y="166.64" fill="#ffffff" fill-opacity="0.88">1</text><text x="454.23" y="166.64" fill="#ffffff" fill-opacity="0.88">0</text><text x="479.00" y="166.64" fill="#ffffff" fill-opacity="0.88">3</text><text x="503.76" y="166.64" fill="#ffffff" fill-opacity="0.88">2</text><text x="528.53" y="166.64" fill="#ffffff" fill-opacity="0.88">0</text><text x="553.31" y="166.64" fill="#262626">14</text><text x="578.08" y="166.64" fill="#ffffff" fill-opacity="0.88">1</text><text x="602.85" y="166.64" fill="#ffffff" fill-opacity="0.88">3</text><text x="627.62" y="166.64" fill="#ffffff" fill-opacity="0.88">2</text><text x="404.69" y="191.23" fill="#ffffff" fill-opacity="0.88">3</text><text x="429.46" y="191.23" fill="#ffffff" fill-opacity="0.88">0</text><text x="454.23" y="191.23" fill="#ffffff" fill-opacity="0.88">2</text><text x="479.00" y="191.23" fill="#ffffff" fill-opacity="0.88">1</text><text x="503.76" y="191.23" fill="#ffffff" fill-opacity="0.88">4</text><text x="528.53" y="191.23" fill="#ffffff" fill-opacity="0.88">0</text><text x="553.31" y="191.23" fill="#ffffff" fill-opacity="0.88">1</text><text x="578.08" y="191.23" fill="#262626">12</text><text x="602.85" y="191.23" fill="#ffffff" fill-opacity="0.88">0</text><text x="627.62" y="191.23" fill="#ffffff" fill-opacity="0.88">1</text><text x="404.69" y="215.81" fill="#ffffff" fill-opacity="0.88">2</text><text x="429.46" y="215.81" fill="#ffffff" fill-opacity="0.88">1</text><text x="454.23" y="215.81" fill="#ffffff" fill-opacity="0.88">1</text><text x="479.00" y="215.81" fill="#ffffff" fill-opacity="0.88">1</text><text x="503.76" y="215.81" fill="#ffffff" fill-opacity="0.88">2</text><text x="528.53" y="215.81" fill="#ffffff" fill-opacity="0.88">1</text><text x="553.31" y="215.81" fill="#ffffff" fill-opacity="0.88">3</text><text x="578.08" y="215.81" fill="#ffffff" fill-opacity="0.88">1</text><text x="602.85" y="215.81" fill="#262626">9</text><text x="627.62" y="215.81" fill="#ffffff" fill-opacity="0.88">0</text><text x="404.69" y="240.41" fill="#ffffff" fill-opacity="0.88">0</text><text x="429.46" y="240.41" fill="#ffffff" fill-opacity="0.88">1</text><text x="454.23" y="240.41" fill="#ffffff" fill-opacity="0.88">2</text><text x="479.00" y="240.41" fill="#ffffff" fill-opacity="0.88">1</text><text x="503.76" y="240.41" fill="#ffffff" fill-opacity="0.88">2</text><text x="528.53" y="240.41" fill="#ffffff" fill-opacity="0.88">1</text><text x="553.31" y="240.41" fill="#ffffff" fill-opacity="0.88">2</text><text x="578.08" y="240.41" fill="#ffffff" fill-opacity="0.88">1</text><text x="602.85" y="240.41" fill="#ffffff" fill-opacity="0.88">1</text><text x="627.62" y="240.41" fill="#262626">19</text></g>
<rect x="655.50" y="5.00" width="12.50" height="245.90" fill="url(#g1)"/>
<g font-family="Liberation Serif" font-size="6.8" fill="#262626"><line x1="668.00" x2="670.50" y1="250.90" y2="250.90" stroke="#262626" stroke-width="0.9"/><text x="672.00" y="253.25">0.0</text><line x1="668.00" x2="670.50" y1="218.54" y2="218.54" stroke="#262626" stroke-width="0.9"/><text x="672.00" y="220.89">2.5</text><line x1="668.00" x2="670.50" y1="186.19" y2="186.19" stroke="#262626" stroke-width="0.9"/><text x="672.00" y="188.54">5.0</text><line x1="668.00" x2="670.50" y1="153.83" y2="153.83" stroke="#262626" stroke-width="0.9"/><text x="672.00" y="156.18">7.5</text><line x1="668.00" x2="670.50" y1="121.48" y2="121.48" stroke="#262626" stroke-width="0.9"/><text x="672.00" y="123.83">10.0</text><line x1="668.00" x2="670.50" y1="89.12" y2="89.12" stroke="#262626" stroke-width="0.9"/><text x="672.00" y="91.47">12.5</text><line x1="668.00" x2="670.50" y1="56.77" y2="56.77" stroke="#262626" stroke-width="0.9"/><text x="672.00" y="59.12">15.0</text><line x1="668.00" x2="670.50" y1="24.41" y2="24.41" stroke="#262626" stroke-width="0.9"/><text x="672.00" y="26.76">17.5</text></g>
<g font-family="Liberation Sans" font-size="6.0" fill="#262626" text-anchor="middle"><line x1="404.69" x2="404.69" y1="250.90" y2="253.40" stroke="#262626" stroke-width="0.9"/><text x="404.69" y="259.36">C1</text><line x1="429.46" x2="429.46" y1="250.90" y2="253.40" stroke="#262626" stroke-width="0.9"/><text x="429.46" y="259.36">C2</text><line x1="454.23" x2="454.23" y1="250.90" y2="253.40" stroke="#262626" stroke-width="0.9"/><text x="454.23" y="259.36">C3</text><line x1="479.00" x2="479.00" y1="250.90" y2="253.40" stroke="#262626" stroke-width="0.9"/><text x="479.00" y="259.36">C4</text><line x1="503.76" x2="503.76" y1="250.90" y2="253.40" stroke="#262626" stroke-width="0.9"/><text x="503.76" y="259.36">C5</text><line x1="528.53" x2="528.53" y1="250.90" y2="253.40" stroke="#262626" stroke-width="0.9"/><text x="528.53" y="259.36">C6</text><line x1="553.31" x2="553.31" y1="250.90" y2="253.40" stroke="#262626" stroke-width="0.9"/><text x="553.31" y="259.36">C7</text><line x1="578.08" x2="578.08" y1="250.90" y2="253.40" stroke="#262626" stroke-width="0.9"/><text x="578.08" y="259.36">C8</text><line x1="602.85" x2="602.85" y1="250.90" y2="253.40" stroke="#262626" stroke-width="0.9"/><text x="602.85" y="259.36">C9</text><line x1="627.62" x2="627.62" y1="250.90" y2="253.40" stroke="#262626" stroke-width="0.9"/><text x="627.62" y="259.36">C10</text><line x1="389.80" x2="392.30" y1="17.30" y2="17.30" stroke="#262626" stroke-width="0.9"/><text transform="translate(384.80 17.30) rotate(-90)" x="0" y="2.16">C1</text><line x1="389.80" x2="392.30" y1="41.88" y2="41.88" stroke="#262626" stroke-width="0.9"/><text transform="translate(384.80 41.88) rotate(-90)" x="0" y="2.16">C2</text><line x1="389.80" x2="392.30" y1="66.47" y2="66.47" stroke="#262626" stroke-width="0.9"/><text transform="translate(384.80 66.47) rotate(-90)" x="0" y="2.16">C3</text><line x1="389.80" x2="392.30" y1="91.06" y2="91.06" stroke="#262626" stroke-width="0.9"/><text transform="translate(384.80 91.06) rotate(-90)" x="0" y="2.16">C4</text><line x1="389.80" x2="392.30" y1="115.66" y2="115.66" stroke="#262626" stroke-width="0.9"/><text transform="translate(384.80 115.66) rotate(-90)" x="0" y="2.16">C5</text><line x1="389.80" x2="392.30" y1="140.25" y2="140.25" stroke="#262626" stroke-width="0.9"/><text transform="translate(384.80 140.25) rotate(-90)" x="0" y="2.16">C6</text><line x1="389.80" x2="392.30" y1="164.84" y2="164.84" stroke="#262626" stroke-width="0.9"/><text transform="translate(384.80 164.84) rotate(-90)" x="0" y="2.16">C7</text><line x1="389.80" x2="392.30" y1="189.43" y2="189.43" stroke="#262626" stroke-width="0.9"/><text transform="translate(384.80 189.43) rotate(-90)" x="0" y="2.16">C8</text><line x1="389.80" x2="392.30" y1="214.01" y2="214.01" stroke="#262626" stroke-width="0.9"/><text transform="translate(384.80 214.01) rotate(-90)" x="0" y="2.16">C9</text><line x1="389.80" x2="392.30" y1="238.60" y2="238.60" stroke="#262626" stroke-width="0.9"/><text transform="translate(384.80 238.60) rotate(-90)" x="0" y="2.16">C10</text></g>
<text font-family="Liberation Sans" font-size="19" fill="#1a1a1a" stroke="#1a1a1a" stroke-width="0.35" text-anchor="middle" x="520.00" y="278.00">Predicted Labels</text>
<text font-family="Liberation Sans" font-size="19.6" textLength="102" lengthAdjust="spacingAndGlyphs" fill="#1a1a1a" stroke="#1a1a1a" stroke-width="0.35" text-anchor="middle" transform="translate(366.90 122.20) rotate(-90)" x="0" y="6.80">Ture Labels</text>
<text font-family="Liberation Sans" font-weight="bold" font-size="16.2" fill="#1a1a1a" stroke="#1a1a1a" stroke-width="0.25" text-anchor="middle" x="516.30" y="307.20">(b)</text>
<g shape-rendering="crispEdges"><rect x="43.20" y="327.90" width="24.68" height="24.08" fill="#ffff66"/><rect x="67.86" y="327.90" width="24.68" height="24.08" fill="#008066"/><rect x="92.52" y="327.90" width="24.68" height="24.08" fill="#008066"/><rect x="117.18" y="327.90" width="24.68" height="24.08" fill="#008066"/><rect x="141.84" y="327.90" width="24.68" height="24.08" fill="#008066"/><rect x="166.50" y="327.90" width="24.68" height="24.08" fill="#008066"/><rect x="191.16" y="327.90" width="24.68" height="24.08" fill="#008066"/><rect x="215.82" y="327.90" width="24.68" height="24.08" fill="#008066"/><rect x="240.48" y="327.90" width="24.68" height="24.08" fill="#008066"/><rect x="265.14" y="327.90" width="24.68" height="24.08" fill="#008066"/><rect x="43.20" y="351.96" width="24.68" height="24.08" fill="#008066"/><rect x="67.86" y="351.96" width="24.68" height="24.08" fill="#5cad66"/><rect x="92.52" y="351.96" width="24.68" height="24.08" fill="#008066"/><rect x="117.18" y="351.96" width="24.68" height="24.08" fill="#148a66"/><rect x="141.84" y="351.96" width="24.68" height="24.08" fill="#0a8566"/><rect x="166.50" y="351.96" width="24.68" height="24.08" fill="#0a8566"/><rect x="191.16" y="351.96" width="24.68" height="24.08" fill="#008066"/><rect x="215.82" y="351.96" width="24.68" height="24.08" fill="#148a66"/><rect x="240.48" y="351.96" width="24.68" height="24.08" fill="#008066"/><rect x="265.14" y="351.96" width="24.68" height="24.08" fill="#148a66"/><rect x="43.20" y="376.02" width="24.68" height="24.08" fill="#0a8566"/><rect x="67.86" y="376.02" width="24.68" height="24.08" fill="#008066"/><rect x="92.52" y="376.02" width="24.68" height="24.08" fill="#cce666"/><rect x="117.18" y="376.02" width="24.68" height="24.08" fill="#008066"/><rect x="141.84" y="376.02" width="24.68" height="24.08" fill="#008066"/><rect x="166.50" y="376.02" width="24.68" height="24.08" fill="#008066"/><rect x="191.16" y="376.02" width="24.68" height="24.08" fill="#0a8566"/><rect x="215.82" y="376.02" width="24.68" height="24.08" fill="#008066"/><rect x="240.48" y="376.02" width="24.68" height="24.08" fill="#008066"/><rect x="265.14" y="376.02" width="24.68" height="24.08" fill="#008066"/><rect x="43.20" y="400.08" width="24.68" height="24.08" fill="#008066"/><rect x="67.86" y="400.08" width="24.68" height="24.08" fill="#0a8566"/><rect x="92.52" y="400.08" width="24.68" height="24.08" fill="#008066"/><rect x="117.18" y="400.08" width="24.68" height="24.08" fill="#a3d166"/><rect x="141.84" y="400.08" width="24.68" height="24.08" fill="#008066"/><rect x="166.50" y="400.08" width="24.68" height="24.08" fill="#0a8566"/><rect x="191.16" y="400.08" width="24.68" height="24.08" fill="#008066"/><rect x="215.82" y="400.08" width="24.68" height="24.08" fill="#148a66"/><rect x="240.48" y="400.08" width="24.68" height="24.08" fill="#008066"/><rect x="265.14" y="400.08" width="24.68" height="24.08" fill="#008066"/><rect x="43.20" y="424.14" width="24.68" height="24.08" fill="#0a8566"/><rect x="67.86" y="424.14" width="24.68" height="24.08" fill="#008066"/><rect x="92.52" y="424.14" width="24.68" height="24.08" fill="#0a8566"/><rect x="117.18" y="424.14" width="24.68" height="24.08" fill="#008066"/><rect x="141.84" y="424.14" width="24.68" height="24.08" fill="#cce666"/><rect x="166.50" y="424.14" width="24.68" height="24.08" fill="#008066"/><rect x="191.16" y="424.14" width="24.68" height="24.08" fill="#008066"/><rect x="215.82" y="424.14" width="24.68" height="24.08" fill="#008066"/><rect x="240.48" y="424.14" width="24.68" height="24.08" fill="#008066"/><rect x="265.14" y="424.14" width="24.68" height="24.08" fill="#008066"/><rect x="43.20" y="448.20" width="24.68" height="24.08" fill="#008066"/><rect x="67.86" y="448.20" width="24.68" height="24.08" fill="#0a8566"/><rect x="92.52" y="448.20" width="24.68" height="24.08" fill="#008066"/><rect x="117.18" y="448.20" width="24.68" height="24.08" fill="#008066"/><rect x="141.84" y="448.20" width="24.68" height="24.08" fill="#0a8566"/><rect x="166.50" y="448.20" width="24.68" height="24.08" fill="#add666"/><rect x="191.16" y="448.20" width="24.68" height="24.08" fill="#008066"/><rect x="215.82" y="448.20" width="24.68" height="24.08" fill="#008066"/><rect x="240.48" y="448.20" width="24.68" height="24.08" fill="#008066"/><rect x="265.14" y="448.20" width="24.68" height="24.08" fill="#0a8566"/><rect x="43.20" y="472.26" width="24.68" height="24.08" fill="#008066"/><rect x="67.86" y="472.26" width="24.68" height="24.08" fill="#008066"/><rect x="92.52" y="472.26" width="24.68" height="24.08" fill="#008066"/><rect x="117.18" y="472.26" width="24.68" height="24.08" fill="#148a66"/><rect x="141.84" y="472.26" width="24.68" height="24.08" fill="#0a8566"/><rect x="166.50" y="472.26" width="24.68" height="24.08" fill="#008066"/><rect x="191.16" y="472.26" width="24.68" height="24.08" fill="#cce666"/><rect x="215.82" y="472.26" width="24.68" height="24.08" fill="#0a8566"/><rect x="240.48" y="472.26" width="24.68" height="24.08" fill="#0a8566"/><rect x="265.14" y="472.26" width="24.68" height="24.08" fill="#0a8566"/><rect x="43.20" y="496.32" width="24.68" height="24.08" fill="#008066"/><rect x="67.86" y="496.32" width="24.68" height="24.08" fill="#008066"/><rect x="92.52" y="496.32" width="24.68" height="24.08" fill="#0a8566"/><rect x="117.18" y="496.32" width="24.68" height="24.08" fill="#0a8566"/><rect x="141.84" y="496.32" width="24.68" height="24.08" fill="#1f8f66"/><rect x="166.50" y="496.32" width="24.68" height="24.08" fill="#008066"/><rect x="191.16" y="496.32" width="24.68" height="24.08" fill="#008066"/><rect x="215.82" y="496.32" width="24.68" height="24.08" fill="#b8db66"/><rect x="240.48" y="496.32" width="24.68" height="24.08" fill="#008066"/><rect x="265.14" y="496.32" width="24.68" height="24.08" fill="#0a8566"/><rect x="43.20" y="520.38" width="24.68" height="24.08" fill="#0a8566"/><rect x="67.86" y="520.38" width="24.68" height="24.08" fill="#0a8566"/><rect x="92.52" y="520.38" width="24.68" height="24.08" fill="#0a8566"/><rect x="117.18" y="520.38" width="24.68" height="24.08" fill="#008066"/><rect x="141.84" y="520.38" width="24.68" height="24.08" fill="#008066"/><rect x="166.50" y="520.38" width="24.68" height="24.08" fill="#008066"/><rect x="191.16" y="520.38" width="24.68" height="24.08" fill="#0a8566"/><rect x="215.82" y="520.38" width="24.68" height="24.08" fill="#008066"/><rect x="240.48" y="520.38" width="24.68" height="24.08" fill="#add666"/><rect x="265.14" y="520.38" width="24.68" height="24.08" fill="#008066"/><rect x="43.20" y="544.44" width="24.68" height="24.08" fill="#008066"/><rect x="67.86" y="544.44" width="24.68" height="24.08" fill="#0a8566"/><rect x="92.52" y="544.44" width="24.68" height="24.08" fill="#0a8566"/><rect x="117.18" y="544.44" width="24.68" height="24.08" fill="#008066"/><rect x="141.84" y="544.44" width="24.68" height="24.08" fill="#148a66"/><rect x="166.50" y="544.44" width="24.68" height="24.08" fill="#0a8566"/><rect x="191.16" y="544.44" width="24.68" height="24.08" fill="#008066"/><rect x="215.82" y="544.44" width="24.68" height="24.08" fill="#008066"/><rect x="240.48" y="544.44" width="24.68" height="24.08" fill="#0a8566"/><rect x="265.14" y="544.44" width="24.68" height="24.08" fill="#f5fa66"/></g>
<g font-family="Liberation Sans" font-size="5.9" text-anchor="middle"><text x="55.53" y="341.73" fill="#262626">25</text><text x="80.19" y="341.73" fill="#ffffff" fill-opacity="0.88">0</text><text x="104.85" y="341.73" fill="#ffffff" fill-opacity="0.88">0</text><text x="129.51" y="341.73" fill="#ffffff" fill-opacity="0.88">0</text><text x="154.17" y="341.73" fill="#ffffff" fill-opacity="0.88">0</text><text x="178.83" y="341.73" fill="#ffffff" fill-opacity="0.88">0</text><text x="203.49" y="341.73" fill="#ffffff" fill-opacity="0.88">0</text><text x="228.15" y="341.73" fill="#ffffff" fill-opacity="0.88">0</text><text x="252.81" y="341.73" fill="#ffffff" fill-opacity="0.88">0</text><text x="277.47" y="341.73" fill="#ffffff" fill-opacity="0.88">0</text><text x="55.53" y="365.79" fill="#ffffff" fill-opacity="0.88">0</text><text x="80.19" y="365.79" fill="#ffffff" fill-opacity="0.88">9</text><text x="104.85" y="365.79" fill="#ffffff" fill-opacity="0.88">0</text><text x="129.51" y="365.79" fill="#ffffff" fill-opacity="0.88">2</text><text x="154.17" y="365.79" fill="#ffffff" fill-opacity="0.88">1</text><text x="178.83" y="365.79" fill="#ffffff" fill-opacity="0.88">1</text><text x="203.49" y="365.79" fill="#ffffff" fill-opacity="0.88">0</text><text x="228.15" y="365.79" fill="#ffffff" fill-opacity="0.88">2</text><text x="252.81" y="365.79" fill="#ffffff" fill-opacity="0.88">0</text><text x="277.47" y="365.79" fill="#ffffff" fill-opacity="0.88">2</text><text x="55.53" y="389.85" fill="#ffffff" fill-opacity="0.88">1</text><text x="80.19" y="389.85" fill="#ffffff" fill-opacity="0.88">0</text><text x="104.85" y="389.85" fill="#262626">20</text><text x="129.51" y="389.85" fill="#ffffff" fill-opacity="0.88">0</text><text x="154.17" y="389.85" fill="#ffffff" fill-opacity="0.88">0</text><text x="178.83" y="389.85" fill="#ffffff" fill-opacity="0.88">0</text><text x="203.49" y="389.85" fill="#ffffff" fill-opacity="0.88">1</text><text x="228.15" y="389.85" fill="#ffffff" fill-opacity="0.88">0</text><text x="252.81" y="389.85" fill="#ffffff" fill-opacity="0.88">0</text><text x="277.47" y="389.85" fill="#ffffff" fill-opacity="0.88">0</text><text x="55.53" y="413.91" fill="#ffffff" fill-opacity="0.88">0</text><text x="80.19" y="413.91" fill="#ffffff" fill-opacity="0.88">1</text><text x="104.85" y="413.91" fill="#ffffff" fill-opacity="0.88">0</text><text x="129.51" y="413.91" fill="#262626">16</text><text x="154.17" y="413.91" fill="#ffffff" fill-opacity="0.88">0</text><text x="178.83" y="413.91" fill="#ffffff" fill-opacity="0.88">1</text><text x="203.49" y="413.91" fill="#ffffff" fill-opacity="0.88">0</text><text x="228.15" y="413.91" fill="#ffffff" fill-opacity="0.88">2</text><text x="252.81" y="413.91" fill="#ffffff" fill-opacity="0.88">0</text><text x="277.47" y="413.91" fill="#ffffff" fill-opacity="0.88">0</text><text x="55.53" y="437.97" fill="#ffffff" fill-opacity="0.88">1</text><text x="80.19" y="437.97" fill="#ffffff" fill-opacity="0.88">0</text><text x="104.85" y="437.97" fill="#ffffff" fill-opacity="0.88">1</text><text x="129.51" y="437.97" fill="#ffffff" fill-opacity="0.88">0</text><text x="154.17" y="437.97" fill="#262626">20</text><text x="178.83" y="437.97" fill="#ffffff" fill-opacity="0.88">0</text><text x="203.49" y="437.97" fill="#ffffff" fill-opacity="0.88">0</text><text x="228.15" y="437.97" fill="#ffffff" fill-opacity="0.88">0</text><text x="252.81" y="437.97" fill="#ffffff" fill-opacity="0.88">0</text><text x="277.47" y="437.97" fill="#ffffff" fill-opacity="0.88">0</text><text x="55.53" y="462.03" fill="#ffffff" fill-opacity="0.88">0</text><text x="80.19" y="462.03" fill="#ffffff" fill-opacity="0.88">1</text><text x="104.85" y="462.03" fill="#ffffff" fill-opacity="0.88">0</text><text x="129.51" y="462.03" fill="#ffffff" fill-opacity="0.88">0</text><text x="154.17" y="462.03" fill="#ffffff" fill-opacity="0.88">1</text><text x="178.83" y="462.03" fill="#262626">17</text><text x="203.49" y="462.03" fill="#ffffff" fill-opacity="0.88">0</text><text x="228.15" y="462.03" fill="#ffffff" fill-opacity="0.88">0</text><text x="252.81" y="462.03" fill="#ffffff" fill-opacity="0.88">0</text><text x="277.47" y="462.03" fill="#ffffff" fill-opacity="0.88">1</text><text x="55.53" y="486.09" fill="#ffffff" fill-opacity="0.88">0</text><text x="80.19" y="486.09" fill="#ffffff" fill-opacity="0.88">0</text><text x="104.85" y="486.09" fill="#ffffff" fill-opacity="0.88">0</text><text x="129.51" y="486.09" fill="#ffffff" fill-opacity="0.88">2</text><text x="154.17" y="486.09" fill="#ffffff" fill-opacity="0.88">1</text><text x="178.83" y="486.09" fill="#ffffff" fill-opacity="0.88">0</text><text x="203.49" y="486.09" fill="#262626">20</text><text x="228.15" y="486.09" fill="#ffffff" fill-opacity="0.88">1</text><text x="252.81" y="486.09" fill="#ffffff" fill-opacity="0.88">1</text><text x="277.47" y="486.09" fill="#ffffff" fill-opacity="0.88">1</text><text x="55.53" y="510.15" fill="#ffffff" fill-opacity="0.88">0</text><text x="80.19" y="510.15" fill="#ffffff" fill-opacity="0.88">0</text><text x="104.85" y="510.15" fill="#ffffff" fill-opacity="0.88">1</text><text x="129.51" y="510.15" fill="#ffffff" fill-opacity="0.88">1</text><text x="154.17" y="510.15" fill="#ffffff" fill-opacity="0.88">3</text><text x="178.83" y="510.15" fill="#ffffff" fill-opacity="0.88">0</text><text x="203.49" y="510.15" fill="#ffffff" fill-opacity="0.88">0</text><text x="228.15" y="510.15" fill="#262626">18</text><text x="252.81" y="510.15" fill="#ffffff" fill-opacity="0.88">0</text><text x="277.47" y="510.15" fill="#ffffff" fill-opacity="0.88">1</text><text x="55.53" y="534.21" fill="#ffffff" fill-opacity="0.88">1</text><text x="80.19" y="534.21" fill="#ffffff" fill-opacity="0.88">1</text><text x="104.85" y="534.21" fill="#ffffff" fill-opacity="0.88">1</text><text x="129.51" y="534.21" fill="#ffffff" fill-opacity="0.88">0</text><text x="154.17" y="534.21" fill="#ffffff" fill-opacity="0.88">0</text><text x="178.83" y="534.21" fill="#ffffff" fill-opacity="0.88">0</text><text x="203.49" y="534.21" fill="#ffffff" fill-opacity="0.88">1</text><text x="228.15" y="534.21" fill="#ffffff" fill-opacity="0.88">0</text><text x="252.81" y="534.21" fill="#262626">17</text><text x="277.47" y="534.21" fill="#ffffff" fill-opacity="0.88">0</text><text x="55.53" y="558.27" fill="#ffffff" fill-opacity="0.88">0</text><text x="80.19" y="558.27" fill="#ffffff" fill-opacity="0.88">1</text><text x="104.85" y="558.27" fill="#ffffff" fill-opacity="0.88">1</text><text x="129.51" y="558.27" fill="#ffffff" fill-opacity="0.88">0</text><text x="154.17" y="558.27" fill="#ffffff" fill-opacity="0.88">2</text><text x="178.83" y="558.27" fill="#ffffff" fill-opacity="0.88">1</text><text x="203.49" y="558.27" fill="#ffffff" fill-opacity="0.88">0</text><text x="228.15" y="558.27" fill="#ffffff" fill-opacity="0.88">0</text><text x="252.81" y="558.27" fill="#ffffff" fill-opacity="0.88">1</text><text x="277.47" y="558.27" fill="#262626">24</text></g>
<rect x="305.00" y="327.90" width="12.70" height="240.60" fill="url(#g2)"/>
<g font-family="Liberation Sans" font-size="6.4" fill="#262626"><line x1="317.70" x2="320.20" y1="568.50" y2="568.50" stroke="#262626" stroke-width="0.9"/><text x="321.70" y="571.30">0</text><line x1="317.70" x2="320.20" y1="520.38" y2="520.38" stroke="#262626" stroke-width="0.9"/><text x="321.70" y="523.18">5</text><line x1="317.70" x2="320.20" y1="472.26" y2="472.26" stroke="#262626" stroke-width="0.9"/><text x="321.70" y="475.06">10</text><line x1="317.70" x2="320.20" y1="424.14" y2="424.14" stroke="#262626" stroke-width="0.9"/><text x="321.70" y="426.94">15</text><line x1="317.70" x2="320.20" y1="376.02" y2="376.02" stroke="#262626" stroke-width="0.9"/><text x="321.70" y="378.82">20</text><line x1="317.70" x2="320.20" y1="327.90" y2="327.90" stroke="#262626" stroke-width="0.9"/><text x="321.70" y="330.70">25</text></g>
<g font-family="Liberation Sans" font-size="6.0" fill="#262626" text-anchor="middle"><line x1="55.53" x2="55.53" y1="568.50" y2="571.00" stroke="#262626" stroke-width="0.9"/><text x="55.53" y="576.96">C1</text><line x1="80.19" x2="80.19" y1="568.50" y2="571.00" stroke="#262626" stroke-width="0.9"/><text x="80.19" y="576.96">C2</text><line x1="104.85" x2="104.85" y1="568.50" y2="571.00" stroke="#262626" stroke-width="0.9"/><text x="104.85" y="576.96">C3</text><line x1="129.51" x2="129.51" y1="568.50" y2="571.00" stroke="#262626" stroke-width="0.9"/><text x="129.51" y="576.96">C4</text><line x1="154.17" x2="154.17" y1="568.50" y2="571.00" stroke="#262626" stroke-width="0.9"/><text x="154.17" y="576.96">C5</text><line x1="178.83" x2="178.83" y1="568.50" y2="571.00" stroke="#262626" stroke-width="0.9"/><text x="178.83" y="576.96">C6</text><line x1="203.49" x2="203.49" y1="568.50" y2="571.00" stroke="#262626" stroke-width="0.9"/><text x="203.49" y="576.96">C7</text><line x1="228.15" x2="228.15" y1="568.50" y2="571.00" stroke="#262626" stroke-width="0.9"/><text x="228.15" y="576.96">C8</text><line x1="252.81" x2="252.81" y1="568.50" y2="571.00" stroke="#262626" stroke-width="0.9"/><text x="252.81" y="576.96">C9</text><line x1="277.47" x2="277.47" y1="568.50" y2="571.00" stroke="#262626" stroke-width="0.9"/><text x="277.47" y="576.96">C10</text><line x1="40.70" x2="43.20" y1="339.93" y2="339.93" stroke="#262626" stroke-width="0.9"/><text transform="translate(36.30 339.93) rotate(-90)" x="0" y="2.16">C1</text><line x1="40.70" x2="43.20" y1="363.99" y2="363.99" stroke="#262626" stroke-width="0.9"/><text transform="translate(36.30 363.99) rotate(-90)" x="0" y="2.16">C2</text><line x1="40.70" x2="43.20" y1="388.05" y2="388.05" stroke="#262626" stroke-width="0.9"/><text transform="translate(36.30 388.05) rotate(-90)" x="0" y="2.16">C3</text><line x1="40.70" x2="43.20" y1="412.11" y2="412.11" stroke="#262626" stroke-width="0.9"/><text transform="translate(36.30 412.11) rotate(-90)" x="0" y="2.16">C4</text><line x1="40.70" x2="43.20" y1="436.17" y2="436.17" stroke="#262626" stroke-width="0.9"/><text transform="translate(36.30 436.17) rotate(-90)" x="0" y="2.16">C5</text><line x1="40.70" x2="43.20" y1="460.23" y2="460.23" stroke="#262626" stroke-width="0.9"/><text transform="translate(36.30 460.23) rotate(-90)" x="0" y="2.16">C6</text><line x1="40.70" x2="43.20" y1="484.29" y2="484.29" stroke="#262626" stroke-width="0.9"/><text transform="translate(36.30 484.29) rotate(-90)" x="0" y="2.16">C7</text><line x1="40.70" x2="43.20" y1="508.35" y2="508.35" stroke="#262626" stroke-width="0.9"/><text transform="translate(36.30 508.35) rotate(-90)" x="0" y="2.16">C8</text><line x1="40.70" x2="43.20" y1="532.41" y2="532.41" stroke="#262626" stroke-width="0.9"/><text transform="translate(36.30 532.41) rotate(-90)" x="0" y="2.16">C9</text><line x1="40.70" x2="43.20" y1="556.47" y2="556.47" stroke="#262626" stroke-width="0.9"/><text transform="translate(36.30 556.47) rotate(-90)" x="0" y="2.16">C10</text></g>
<text font-family="Liberation Sans" font-size="19" fill="#1a1a1a" stroke="#1a1a1a" stroke-width="0.35" text-anchor="middle" x="168.80" y="597.00">Predicted Labels</text>
<text font-family="Liberation Sans" font-size="19.6" textLength="102" lengthAdjust="spacingAndGlyphs" fill="#1a1a1a" stroke="#1a1a1a" stroke-width="0.35" text-anchor="middle" transform="translate(16.30 441.10) rotate(-90)" x="0" y="6.80">Ture Labels</text>
<text font-family="Liberation Sans" font-weight="bold" font-size="16.2" fill="#1a1a1a" stroke="#1a1a1a" stroke-width="0.25" text-anchor="middle" x="164.50" y="626.50">(c)</text>
<g shape-rendering="crispEdges"><rect x="398.10" y="325.20" width="24.31" height="24.38" fill="#e4f166"/><rect x="422.39" y="325.20" width="24.31" height="24.38" fill="#008066"/><rect x="446.68" y="325.20" width="24.31" height="24.38" fill="#008066"/><rect x="470.97" y="325.20" width="24.31" height="24.38" fill="#008066"/><rect x="495.26" y="325.20" width="24.31" height="24.38" fill="#008066"/><rect x="519.55" y="325.20" width="24.31" height="24.38" fill="#008066"/><rect x="543.84" y="325.20" width="24.31" height="24.38" fill="#008066"/><rect x="568.13" y="325.20" width="24.31" height="24.38" fill="#008066"/><rect x="592.42" y="325.20" width="24.31" height="24.38" fill="#008066"/><rect x="616.71" y="325.20" width="24.31" height="24.38" fill="#008066"/><rect x="398.10" y="349.56" width="24.31" height="24.38" fill="#008066"/><rect x="422.39" y="349.56" width="24.31" height="24.38" fill="#92c866"/><rect x="446.68" y="349.56" width="24.31" height="24.38" fill="#008066"/><rect x="470.97" y="349.56" width="24.31" height="24.38" fill="#008066"/><rect x="495.26" y="349.56" width="24.31" height="24.38" fill="#008066"/><rect x="519.55" y="349.56" width="24.31" height="24.38" fill="#008066"/><rect x="543.84" y="349.56" width="24.31" height="24.38" fill="#008066"/><rect x="568.13" y="349.56" width="24.31" height="24.38" fill="#008066"/><rect x="592.42" y="349.56" width="24.31" height="24.38" fill="#008066"/><rect x="616.71" y="349.56" width="24.31" height="24.38" fill="#008066"/><rect x="398.10" y="373.92" width="24.31" height="24.38" fill="#008066"/><rect x="422.39" y="373.92" width="24.31" height="24.38" fill="#008066"/><rect x="446.68" y="373.92" width="24.31" height="24.38" fill="#bfdf66"/><rect x="470.97" y="373.92" width="24.31" height="24.38" fill="#008066"/><rect x="495.26" y="373.92" width="24.31" height="24.38" fill="#098466"/><rect x="519.55" y="373.92" width="24.31" height="24.38" fill="#008066"/><rect x="543.84" y="373.92" width="24.31" height="24.38" fill="#008066"/><rect x="568.13" y="373.92" width="24.31" height="24.38" fill="#008066"/><rect x="592.42" y="373.92" width="24.31" height="24.38" fill="#008066"/><rect x="616.71" y="373.92" width="24.31" height="24.38" fill="#008066"/><rect x="398.10" y="398.28" width="24.31" height="24.38" fill="#008066"/><rect x="422.39" y="398.28" width="24.31" height="24.38" fill="#008066"/><rect x="446.68" y="398.28" width="24.31" height="24.38" fill="#008066"/><rect x="470.97" y="398.28" width="24.31" height="24.38" fill="#b6db66"/><rect x="495.26" y="398.28" width="24.31" height="24.38" fill="#008066"/><rect x="519.55" y="398.28" width="24.31" height="24.38" fill="#008066"/><rect x="543.84" y="398.28" width="24.31" height="24.38" fill="#008066"/><rect x="568.13" y="398.28" width="24.31" height="24.38" fill="#008066"/><rect x="592.42" y="398.28" width="24.31" height="24.38" fill="#008066"/><rect x="616.71" y="398.28" width="24.31" height="24.38" fill="#008066"/><rect x="398.10" y="422.64" width="24.31" height="24.38" fill="#008066"/><rect x="422.39" y="422.64" width="24.31" height="24.38" fill="#008066"/><rect x="446.68" y="422.64" width="24.31" height="24.38" fill="#008066"/><rect x="470.97" y="422.64" width="24.31" height="24.38" fill="#008066"/><rect x="495.26" y="422.64" width="24.31" height="24.38" fill="#c8e466"/><rect x="519.55" y="422.64" width="24.31" height="24.38" fill="#008066"/><rect x="543.84" y="422.64" width="24.31" height="24.38" fill="#008066"/><rect x="568.13" y="422.64" width="24.31" height="24.38" fill="#008066"/><rect x="592.42" y="422.64" width="24.31" height="24.38" fill="#008066"/><rect x="616.71" y="422.64" width="24.31" height="24.38" fill="#008066"/><rect x="398.10" y="447.00" width="24.31" height="24.38" fill="#008066"/><rect x="422.39" y="447.00" width="24.31" height="24.38" fill="#008066"/><rect x="446.68" y="447.00" width="24.31" height="24.38" fill="#008066"/><rect x="470.97" y="447.00" width="24.31" height="24.38" fill="#008066"/><rect x="495.26" y="447.00" width="24.31" height="24.38" fill="#008066"/><rect x="519.55" y="447.00" width="24.31" height="24.38" fill="#b6db66"/><rect x="543.84" y="447.00" width="24.31" height="24.38" fill="#008066"/><rect x="568.13" y="447.00" width="24.31" height="24.38" fill="#008066"/><rect x="592.42" y="447.00" width="24.31" height="24.38" fill="#008066"/><rect x="616.71" y="447.00" width="24.31" height="24.38" fill="#008066"/><rect x="398.10" y="471.36" width="24.31" height="24.38" fill="#008066"/><rect x="422.39" y="471.36" width="24.31" height="24.38" fill="#008066"/><rect x="446.68" y="471.36" width="24.31" height="24.38" fill="#008066"/><rect x="470.97" y="471.36" width="24.31" height="24.38" fill="#008066"/><rect x="495.26" y="471.36" width="24.31" height="24.38" fill="#008066"/><rect x="519.55" y="471.36" width="24.31" height="24.38" fill="#008066"/><rect x="543.84" y="471.36" width="24.31" height="24.38" fill="#edf666"/><rect x="568.13" y="471.36" width="24.31" height="24.38" fill="#008066"/><rect x="592.42" y="471.36" width="24.31" height="24.38" fill="#008066"/><rect x="616.71" y="471.36" width="24.31" height="24.38" fill="#008066"/><rect x="398.10" y="495.72" width="24.31" height="24.38" fill="#008066"/><rect x="422.39" y="495.72" width="24.31" height="24.38" fill="#008066"/><rect x="446.68" y="495.72" width="24.31" height="24.38" fill="#008066"/><rect x="470.97" y="495.72" width="24.31" height="24.38" fill="#008066"/><rect x="495.26" y="495.72" width="24.31" height="24.38" fill="#008066"/><rect x="519.55" y="495.72" width="24.31" height="24.38" fill="#008066"/><rect x="543.84" y="495.72" width="24.31" height="24.38" fill="#008066"/><rect x="568.13" y="495.72" width="24.31" height="24.38" fill="#dbed66"/><rect x="592.42" y="495.72" width="24.31" height="24.38" fill="#008066"/><rect x="616.71" y="495.72" width="24.31" height="24.38" fill="#008066"/><rect x="398.10" y="520.08" width="24.31" height="24.38" fill="#008066"/><rect x="422.39" y="520.08" width="24.31" height="24.38" fill="#008066"/><rect x="446.68" y="520.08" width="24.31" height="24.38" fill="#008066"/><rect x="470.97" y="520.08" width="24.31" height="24.38" fill="#008066"/><rect x="495.26" y="520.08" width="24.31" height="24.38" fill="#008066"/><rect x="519.55" y="520.08" width="24.31" height="24.38" fill="#008066"/><rect x="543.84" y="520.08" width="24.31" height="24.38" fill="#008066"/><rect x="568.13" y="520.08" width="24.31" height="24.38" fill="#008066"/><rect x="592.42" y="520.08" width="24.31" height="24.38" fill="#bfdf66"/><rect x="616.71" y="520.08" width="24.31" height="24.38" fill="#008066"/><rect x="398.10" y="544.44" width="24.31" height="24.38" fill="#008066"/><rect x="422.39" y="544.44" width="24.31" height="24.38" fill="#008066"/><rect x="446.68" y="544.44" width="24.31" height="24.38" fill="#008066"/><rect x="470.97" y="544.44" width="24.31" height="24.38" fill="#008066"/><rect x="495.26" y="544.44" width="24.31" height="24.38" fill="#008066"/><rect x="519.55" y="544.44" width="24.31" height="24.38" fill="#008066"/><rect x="543.84" y="544.44" width="24.31" height="24.38" fill="#008066"/><rect x="568.13" y="544.44" width="24.31" height="24.38" fill="#008066"/><rect x="592.42" y="544.44" width="24.31" height="24.38" fill="#008066"/><rect x="616.71" y="544.44" width="24.31" height="24.38" fill="#ffff66"/></g>
<g font-family="Liberation Sans" font-size="5.9" text-anchor="middle"><text x="410.25" y="339.18" fill="#262626">25</text><text x="434.54" y="339.18" fill="#ffffff" fill-opacity="0.88">0</text><text x="458.83" y="339.18" fill="#ffffff" fill-opacity="0.88">0</text><text x="483.12" y="339.18" fill="#ffffff" fill-opacity="0.88">0</text><text x="507.41" y="339.18" fill="#ffffff" fill-opacity="0.88">0</text><text x="531.70" y="339.18" fill="#ffffff" fill-opacity="0.88">0</text><text x="555.99" y="339.18" fill="#ffffff" fill-opacity="0.88">0</text><text x="580.27" y="339.18" fill="#ffffff" fill-opacity="0.88">0</text><text x="604.57" y="339.18" fill="#ffffff" fill-opacity="0.88">0</text><text x="628.86" y="339.18" fill="#ffffff" fill-opacity="0.88">0</text><text x="410.25" y="363.54" fill="#ffffff" fill-opacity="0.88">0</text><text x="434.54" y="363.54" fill="#262626">16</text><text x="458.83" y="363.54" fill="#ffffff" fill-opacity="0.88">0</text><text x="483.12" y="363.54" fill="#ffffff" fill-opacity="0.88">0</text><text x="507.41" y="363.54" fill="#ffffff" fill-opacity="0.88">0</text><text x="531.70" y="363.54" fill="#ffffff" fill-opacity="0.88">0</text><text x="555.99" y="363.54" fill="#ffffff" fill-opacity="0.88">0</text><text x="580.27" y="363.54" fill="#ffffff" fill-opacity="0.88">0</text><text x="604.57" y="363.54" fill="#ffffff" fill-opacity="0.88">0</text><text x="628.86" y="363.54" fill="#ffffff" fill-opacity="0.88">0</text><text x="410.25" y="387.90" fill="#ffffff" fill-opacity="0.88">0</text><text x="434.54" y="387.90" fill="#ffffff" fill-opacity="0.88">0</text><text x="458.83" y="387.90" fill="#262626">21</text><text x="483.12" y="387.90" fill="#ffffff" fill-opacity="0.88">0</text><text x="507.41" y="387.90" fill="#ffffff" fill-opacity="0.88">1</text><text x="531.70" y="387.90" fill="#ffffff" fill-opacity="0.88">0</text><text x="555.99" y="387.90" fill="#ffffff" fill-opacity="0.88">0</text><text x="580.27" y="387.90" fill="#ffffff" fill-opacity="0.88">0</text><text x="604.57" y="387.90" fill="#ffffff" fill-opacity="0.88">0</text><text x="628.86" y="387.90" fill="#ffffff" fill-opacity="0.88">0</text><text x="410.25" y="412.26" fill="#ffffff" fill-opacity="0.88">0</text><text x="434.54" y="412.26" fill="#ffffff" fill-opacity="0.88">0</text><text x="458.83" y="412.26" fill="#ffffff" fill-opacity="0.88">0</text><text x="483.12" y="412.26" fill="#262626">20</text><text x="507.41" y="412.26" fill="#ffffff" fill-opacity="0.88">0</text><text x="531.70" y="412.26" fill="#ffffff" fill-opacity="0.88">0</text><text x="555.99" y="412.26" fill="#ffffff" fill-opacity="0.88">0</text><text x="580.27" y="412.26" fill="#ffffff" fill-opacity="0.88">0</text><text x="604.57" y="412.26" fill="#ffffff" fill-opacity="0.88">0</text><text x="628.86" y="412.26" fill="#ffffff" fill-opacity="0.88">0</text><text x="410.25" y="436.62" fill="#ffffff" fill-opacity="0.88">0</text><text x="434.54" y="436.62" fill="#ffffff" fill-opacity="0.88">0</text><text x="458.83" y="436.62" fill="#ffffff" fill-opacity="0.88">0</text><text x="483.12" y="436.62" fill="#ffffff" fill-opacity="0.88">0</text><text x="507.41" y="436.62" fill="#262626">22</text><text x="531.70" y="436.62" fill="#ffffff" fill-opacity="0.88">0</text><text x="555.99" y="436.62" fill="#ffffff" fill-opacity="0.88">0</text><text x="580.27" y="436.62" fill="#ffffff" fill-opacity="0.88">0</text><text x="604.57" y="436.62" fill="#ffffff" fill-opacity="0.88">0</text><text x="628.86" y="436.62" fill="#ffffff" fill-opacity="0.88">0</text><text x="410.25" y="460.98" fill="#ffffff" fill-opacity="0.88">0</text><text x="434.54" y="460.98" fill="#ffffff" fill-opacity="0.88">0</text><text x="458.83" y="460.98" fill="#ffffff" fill-opacity="0.88">0</text><text x="483.12" y="460.98" fill="#ffffff" fill-opacity="0.88">0</text><text x="507.41" y="460.98" fill="#ffffff" fill-opacity="0.88">0</text><text x="531.70" y="460.98" fill="#262626">20</text><text x="555.99" y="460.98" fill="#ffffff" fill-opacity="0.88">0</text><text x="580.27" y="460.98" fill="#ffffff" fill-opacity="0.88">0</text><text x="604.57" y="460.98" fill="#ffffff" fill-opacity="0.88">0</text><text x="628.86" y="460.98" fill="#ffffff" fill-opacity="0.88">0</text><text x="410.25" y="485.34" fill="#ffffff" fill-opacity="0.88">0</text><text x="434.54" y="485.34" fill="#ffffff" fill-opacity="0.88">0</text><text x="458.83" y="485.34" fill="#ffffff" fill-opacity="0.88">0</text><text x="483.12" y="485.34" fill="#ffffff" fill-opacity="0.88">0</text><text x="507.41" y="485.34" fill="#ffffff" fill-opacity="0.88">0</text><text x="531.70" y="485.34" fill="#ffffff" fill-opacity="0.88">0</text><text x="555.99" y="485.34" fill="#262626">26</text><text x="580.27" y="485.34" fill="#ffffff" fill-opacity="0.88">0</text><text x="604.57" y="485.34" fill="#ffffff" fill-opacity="0.88">0</text><text x="628.86" y="485.34" fill="#ffffff" fill-opacity="0.88">0</text><text x="410.25" y="509.70" fill="#ffffff" fill-opacity="0.88">0</text><text x="434.54" y="509.70" fill="#ffffff" fill-opacity="0.88">0</text><text x="458.83" y="509.70" fill="#ffffff" fill-opacity="0.88">0</text><text x="483.12" y="509.70" fill="#ffffff" fill-opacity="0.88">0</text><text x="507.41" y="509.70" fill="#ffffff" fill-opacity="0.88">0</text><text x="531.70" y="509.70" fill="#ffffff" fill-opacity="0.88">0</text><text x="555.99" y="509.70" fill="#ffffff" fill-opacity="0.88">0</text><text x="580.27" y="509.70" fill="#262626">24</text><text x="604.57" y="509.70" fill="#ffffff" fill-opacity="0.88">0</text><text x="628.86" y="509.70" fill="#ffffff" fill-opacity="0.88">0</text><text x="410.25" y="534.06" fill="#ffffff" fill-opacity="0.88">0</text><text x="434.54" y="534.06" fill="#ffffff" fill-opacity="0.88">0</text><text x="458.83" y="534.06" fill="#ffffff" fill-opacity="0.88">0</text><text x="483.12" y="534.06" fill="#ffffff" fill-opacity="0.88">0</text><text x="507.41" y="534.06" fill="#ffffff" fill-opacity="0.88">0</text><text x="531.70" y="534.06" fill="#ffffff" fill-opacity="0.88">0</text><text x="555.99" y="534.06" fill="#ffffff" fill-opacity="0.88">0</text><text x="580.27" y="534.06" fill="#ffffff" fill-opacity="0.88">0</text><text x="604.57" y="534.06" fill="#262626">21</text><text x="628.86" y="534.06" fill="#ffffff" fill-opacity="0.88">0</text><text x="410.25" y="558.42" fill="#ffffff" fill-opacity="0.88">0</text><text x="434.54" y="558.42" fill="#ffffff" fill-opacity="0.88">0</text><text x="458.83" y="558.42" fill="#ffffff" fill-opacity="0.88">0</text><text x="483.12" y="558.42" fill="#ffffff" fill-opacity="0.88">0</text><text x="507.41" y="558.42" fill="#ffffff" fill-opacity="0.88">0</text><text x="531.70" y="558.42" fill="#ffffff" fill-opacity="0.88">0</text><text x="555.99" y="558.42" fill="#ffffff" fill-opacity="0.88">0</text><text x="580.27" y="558.42" fill="#ffffff" fill-opacity="0.88">0</text><text x="604.57" y="558.42" fill="#ffffff" fill-opacity="0.88">0</text><text x="628.86" y="558.42" fill="#262626">28</text></g>
<rect x="656.00" y="325.20" width="12.00" height="243.60" fill="url(#g3)"/>
<g font-family="Liberation Sans" font-size="6.4" fill="#262626"><line x1="668.00" x2="670.50" y1="568.80" y2="568.80" stroke="#262626" stroke-width="0.9"/><text x="672.00" y="571.20">0</text><line x1="668.00" x2="670.50" y1="525.30" y2="525.30" stroke="#262626" stroke-width="0.9"/><text x="672.00" y="527.70">5</text><line x1="668.00" x2="670.50" y1="481.80" y2="481.80" stroke="#262626" stroke-width="0.9"/><text x="672.00" y="484.20">10</text><line x1="668.00" x2="670.50" y1="438.30" y2="438.30" stroke="#262626" stroke-width="0.9"/><text x="672.00" y="440.70">15</text><line x1="668.00" x2="670.50" y1="394.80" y2="394.80" stroke="#262626" stroke-width="0.9"/><text x="672.00" y="397.20">20</text><line x1="668.00" x2="670.50" y1="351.30" y2="351.30" stroke="#262626" stroke-width="0.9"/><text x="672.00" y="353.70">25</text></g>
<g font-family="Liberation Sans" font-size="6.0" fill="#262626" text-anchor="middle"><line x1="410.25" x2="410.25" y1="568.80" y2="571.30" stroke="#262626" stroke-width="0.9"/><text x="410.25" y="576.96">C1</text><line x1="434.54" x2="434.54" y1="568.80" y2="571.30" stroke="#262626" stroke-width="0.9"/><text x="434.54" y="576.96">C2</text><line x1="458.83" x2="458.83" y1="568.80" y2="571.30" stroke="#262626" stroke-width="0.9"/><text x="458.83" y="576.96">C3</text><line x1="483.12" x2="483.12" y1="568.80" y2="571.30" stroke="#262626" stroke-width="0.9"/><text x="483.12" y="576.96">C4</text><line x1="507.41" x2="507.41" y1="568.80" y2="571.30" stroke="#262626" stroke-width="0.9"/><text x="507.41" y="576.96">C5</text><line x1="531.70" x2="531.70" y1="568.80" y2="571.30" stroke="#262626" stroke-width="0.9"/><text x="531.70" y="576.96">C6</text><line x1="555.99" x2="555.99" y1="568.80" y2="571.30" stroke="#262626" stroke-width="0.9"/><text x="555.99" y="576.96">C7</text><line x1="580.27" x2="580.27" y1="568.80" y2="571.30" stroke="#262626" stroke-width="0.9"/><text x="580.27" y="576.96">C8</text><line x1="604.57" x2="604.57" y1="568.80" y2="571.30" stroke="#262626" stroke-width="0.9"/><text x="604.57" y="576.96">C9</text><line x1="628.86" x2="628.86" y1="568.80" y2="571.30" stroke="#262626" stroke-width="0.9"/><text x="628.86" y="576.96">C10</text><line x1="395.60" x2="398.10" y1="337.38" y2="337.38" stroke="#262626" stroke-width="0.9"/><text transform="translate(391.50 337.38) rotate(-90)" x="0" y="2.16">C1</text><line x1="395.60" x2="398.10" y1="361.74" y2="361.74" stroke="#262626" stroke-width="0.9"/><text transform="translate(391.50 361.74) rotate(-90)" x="0" y="2.16">C2</text><line x1="395.60" x2="398.10" y1="386.10" y2="386.10" stroke="#262626" stroke-width="0.9"/><text transform="translate(391.50 386.10) rotate(-90)" x="0" y="2.16">C3</text><line x1="395.60" x2="398.10" y1="410.46" y2="410.46" stroke="#262626" stroke-width="0.9"/><text transform="translate(391.50 410.46) rotate(-90)" x="0" y="2.16">C4</text><line x1="395.60" x2="398.10" y1="434.82" y2="434.82" stroke="#262626" stroke-width="0.9"/><text transform="translate(391.50 434.82) rotate(-90)" x="0" y="2.16">C5</text><line x1="395.60" x2="398.10" y1="459.18" y2="459.18" stroke="#262626" stroke-width="0.9"/><text transform="translate(391.50 459.18) rotate(-90)" x="0" y="2.16">C6</text><line x1="395.60" x2="398.10" y1="483.54" y2="483.54" stroke="#262626" stroke-width="0.9"/><text transform="translate(391.50 483.54) rotate(-90)" x="0" y="2.16">C7</text><line x1="395.60" x2="398.10" y1="507.90" y2="507.90" stroke="#262626" stroke-width="0.9"/><text transform="translate(391.50 507.90) rotate(-90)" x="0" y="2.16">C8</text><line x1="395.60" x2="398.10" y1="532.26" y2="532.26" stroke="#262626" stroke-width="0.9"/><text transform="translate(391.50 532.26) rotate(-90)" x="0" y="2.16">C9</text><line x1="395.60" x2="398.10" y1="556.62" y2="556.62" stroke="#262626" stroke-width="0.9"/><text transform="translate(391.50 556.62) rotate(-90)" x="0" y="2.16">C10</text></g>
<text font-family="Liberation Sans" font-size="19" fill="#1a1a1a" stroke="#1a1a1a" stroke-width="0.35" text-anchor="middle" x="520.00" y="597.00">Predicted Labels</text>
<text font-family="Liberation Sans" font-size="19.6" textLength="102" lengthAdjust="spacingAndGlyphs" fill="#1a1a1a" stroke="#1a1a1a" stroke-width="0.35" text-anchor="middle" transform="translate(367.20 440.90) rotate(-90)" x="0" y="6.80">Ture Labels</text>
<text font-family="Liberation Sans" font-weight="bold" font-size="16.2" fill="#1a1a1a" stroke="#1a1a1a" stroke-width="0.25" text-anchor="middle" x="516.20" y="626.50">(d)</text>
</svg>
</body></html>
